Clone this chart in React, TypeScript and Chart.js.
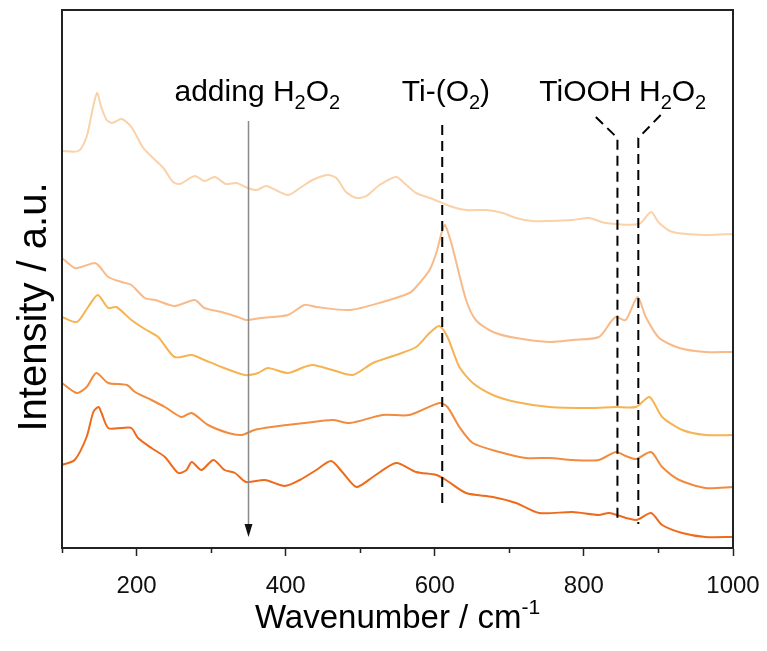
import React, { useEffect, useRef } from "react";
import { Chart, registerables } from "chart.js";
Chart.register(...registerables);

// ---------- data (wavenumber cm^-1, intensity a.u. with vertical offsets) ----------
const X_MIN = 100;
const X_MAX = 1000;
const Y_MIN = 0;
const Y_MAX = 538;
const majorTicks = [200, 400, 600, 800, 1000];
const minorTicks = [100, 300, 500, 700, 900];

const spectrum1: [number, number][] = [
  [100, 397], [122, 397], [133, 411], [140, 435], [147, 455], [153, 440], [160, 428], [167, 425], [180, 429],
  [193, 421], [209, 400], [225, 388], [236, 380], [249, 366], [258, 364], [278, 372], [291, 367],
  [305, 371], [320, 364], [334, 365], [349, 360], [361, 358], [374, 362], [403, 353], [419, 360],
  [436, 368], [456, 373], [468, 370], [481, 356], [495, 350], [508, 352], [526, 363], [548, 371],
  [562, 363], [575, 355], [597, 349], [620, 342], [642, 338], [669, 338], [691, 335], [709, 330],
  [731, 327], [754, 327], [785, 328], [807, 330], [829, 325], [874, 324], [890, 336], [901, 325],
  [919, 316], [963, 313], [1000, 314],
];

const spectrum2: [number, number][] = [
  [100, 290], [117, 280], [126, 281], [144, 285], [151, 281], [162, 271], [180, 266], [193, 263],
  [211, 250], [225, 248], [251, 242], [278, 248], [291, 240], [314, 236], [336, 231], [347, 228],
  [367, 230], [403, 233], [425, 243], [441, 241], [486, 238], [530, 246], [566, 255], [575, 261],
  [593, 278], [602, 295], [613, 323], [621, 308], [628, 288], [642, 248], [655, 228], [678, 216],
  [709, 210], [754, 206], [785, 208], [820, 211], [836, 226], [843, 231], [856, 228], [872, 251],
  [883, 231], [901, 210], [928, 200], [963, 196], [1000, 196],
];

const spectrum3: [number, number][] = [
  [100, 231], [120, 226], [135, 241], [148, 253], [162, 240], [173, 241], [193, 228], [211, 219],
  [229, 211], [251, 191], [274, 193], [291, 188], [314, 181], [345, 173], [363, 175], [376, 180],
  [403, 175], [425, 181], [436, 183], [463, 178], [490, 173], [517, 185], [548, 193], [575, 201],
  [593, 215], [606, 222], [617, 211], [633, 181], [651, 165], [678, 153], [709, 146], [754, 141],
  [807, 140], [843, 141], [870, 141], [888, 151], [905, 131], [932, 118], [963, 113], [1000, 113],
];

const spectrum4: [number, number][] = [
  [100, 165], [120, 155], [133, 161], [146, 175], [162, 165], [187, 163], [198, 156], [220, 148],
  [238, 141], [260, 131], [274, 135], [296, 123], [323, 115], [341, 113], [358, 118], [381, 121],
  [425, 125], [463, 128], [486, 125], [530, 133], [566, 133], [606, 145], [617, 141], [633, 121],
  [651, 105], [687, 96], [722, 90], [754, 90], [785, 88], [820, 88], [843, 96], [856, 92],
  [870, 89], [890, 96], [905, 81], [928, 68], [963, 60], [1000, 61],
];

const spectrum5: [number, number][] = [
  [100, 83], [117, 88], [133, 111], [142, 136], [149, 141], [153, 135], [162, 120], [180, 120],
  [193, 120], [202, 110], [220, 100], [238, 91], [256, 75], [267, 78], [274, 86], [287, 78],
  [303, 88], [318, 78], [332, 75], [347, 66], [372, 68], [399, 62], [419, 68], [441, 78],
  [461, 87], [477, 75], [495, 61], [517, 71], [548, 85], [575, 76], [602, 73], [615, 68],
  [642, 55], [678, 51], [709, 45], [740, 35], [785, 36], [820, 33], [834, 35], [870, 28],
  [890, 35], [905, 23], [932, 15], [963, 11], [1000, 11],
];

const spectra = [spectrum1, spectrum2, spectrum3, spectrum4, spectrum5];
const seriesColors = ["#FAD1A8", "#F7BA88", "#F6B352", "#F28B3E", "#EE6B1C"];

// annotations (data coordinates)
const arrowLine = { x: 349, top: 427, bottom: 11 };
const tiO2Line = { x: 610, top: 423, bottom: 42 };
const tiOOHLine = { x: 845, top: 410, bottom: 26, fromX: 816, fromY: 431 };
const h2o2Line = { x: 873, top: 410, bottom: 24, fromX: 903, fromY: 433 };
const labelY = 447;
const labels = [
  { x: 362, parts: [{ t: "adding H" }, { t: "2", sub: true }, { t: "O" }, { t: "2", sub: true }] },
  { x: 615, parts: [{ t: "Ti-(O" }, { t: "2", sub: true }, { t: ")" }] },
  { x: 802, parts: [{ t: "TiOOH" }] },
  { x: 919, parts: [{ t: "H" }, { t: "2", sub: true }, { t: "O" }, { t: "2", sub: true }] },
];

const FONT = "'Liberation Sans', Arial, sans-serif";

type Part = { t: string; sub?: boolean; sup?: boolean };

function drawRich(ctx: CanvasRenderingContext2D, parts: Part[], cx: number, y: number, size: number) {
  const small = Math.round(size * 0.65);
  let total = 0;
  const widths = parts.map((p) => {
    ctx.font = `${p.sub || p.sup ? small : size}px ${FONT}`;
    const w = ctx.measureText(p.t).width;
    total += w;
    return w;
  });
  let x = cx - total / 2;
  ctx.textAlign = "left";
  ctx.textBaseline = "alphabetic";
  parts.forEach((p, i) => {
    ctx.font = `${p.sub || p.sup ? small : size}px ${FONT}`;
    const dy = p.sub ? size * 0.28 : p.sup ? -size * 0.42 : 0;
    ctx.fillText(p.t, x, y + dy);
    x += widths[i];
  });
}

const overlayPlugin = {
  id: "overlay",
  afterDatasetsDraw(chart: any) {
    const { ctx, chartArea, scales } = chart;
    const xs = scales.x;
    const ys = scales.y;
    const px = (v: number) => xs.getPixelForValue(v);
    const py = (v: number) => ys.getPixelForValue(v);
    ctx.save();

    // frame
    ctx.strokeStyle = "#222";
    ctx.lineWidth = 2;
    ctx.strokeRect(chartArea.left, chartArea.top, chartArea.right - chartArea.left, chartArea.bottom - chartArea.top);

    // minor ticks
    ctx.lineWidth = 1.5;
    ctx.beginPath();
    minorTicks.forEach((v) => {
      const x = Math.round(px(v)) + 0.5;
      ctx.moveTo(x, chartArea.bottom);
      ctx.lineTo(x, chartArea.bottom + 5);
    });
    ctx.stroke();

    // arrow
    ctx.strokeStyle = "#8a8a8a";
    ctx.lineWidth = 1.5;
    const ax = Math.round(px(arrowLine.x)) + 0.5;
    ctx.beginPath();
    ctx.moveTo(ax, py(arrowLine.top));
    ctx.lineTo(ax, py(arrowLine.bottom) - 10);
    ctx.stroke();
    ctx.fillStyle = "#111";
    ctx.beginPath();
    ctx.moveTo(ax - 4, py(arrowLine.bottom) - 13);
    ctx.lineTo(ax + 4, py(arrowLine.bottom) - 13);
    ctx.lineTo(ax, py(arrowLine.bottom));
    ctx.closePath();
    ctx.fill();

    // dashed lines
    ctx.strokeStyle = "#000";
    ctx.lineWidth = 2;
    ctx.setLineDash([10, 6]);
    [tiO2Line, tiOOHLine, h2o2Line].forEach((l: any) => {
      ctx.beginPath();
      if (l.fromX !== undefined) {
        ctx.moveTo(px(l.fromX), py(l.fromY));
        ctx.lineTo(px(l.x), py(l.top));
      } else {
        ctx.moveTo(px(l.x), py(l.top));
      }
      ctx.lineTo(px(l.x), py(l.bottom));
      ctx.stroke();
    });
    ctx.setLineDash([]);

    // labels
    ctx.fillStyle = "#000";
    labels.forEach((lb) => drawRich(ctx, lb.parts, px(lb.x), py(labelY), 30));

    // axis titles
    drawRich(ctx, [{ t: "Wavenumber / cm" }, { t: "-1", sup: true }], (chartArea.left + chartArea.right) / 2, 628, 33);
    ctx.save();
    ctx.translate(46, 307);
    ctx.rotate(-Math.PI / 2);
    drawRich(ctx, [{ t: "Intensity / a.u." }], 0, 0, 40);
    ctx.restore();

    ctx.restore();
  },
};

export default function App() {
  const ref = useRef<HTMLCanvasElement | null>(null);
  useEffect(() => {
    if (!ref.current) return;
    const chart = new Chart(ref.current, {
      type: "line",
      data: {
        datasets: spectra.map((s, i) => ({
          label: `spectrum ${i + 1}`,
          data: s.map(([x, y]) => ({ x, y })),
          borderColor: seriesColors[i],
          borderWidth: 2,
          pointRadius: 0,
          tension: 0.25,
          fill: false,
        })),
      },
      options: {
        animation: false,
        responsive: false,
        layout: { padding: { top: 10, right: 34, left: 0, bottom: 0 } },
        plugins: { legend: { display: false }, tooltip: { enabled: false } },
        scales: {
          x: {
            type: "linear",
            min: X_MIN,
            max: X_MAX,
            afterBuildTicks: (s: any) => {
              s.ticks = majorTicks.map((v) => ({ value: v }));
            },
            afterFit: (s: any) => {
              s.height = 651 - 548;
              s.paddingLeft = 0;
              s.paddingRight = 0;
            },
            grid: { drawOnChartArea: false, drawTicks: true, tickLength: 8, color: "#222", tickWidth: 1.5 },
            border: { display: true, color: "#222", width: 2 },
            ticks: {
              color: "#111",
              font: { family: FONT, size: 24 },
              padding: 16,
              maxRotation: 0,
              autoSkip: false,
              callback: (v: any) => String(v),
            },
          },
          y: {
            type: "linear",
            min: Y_MIN,
            max: Y_MAX,
            afterFit: (s: any) => {
              s.width = 62;
              s.paddingTop = 0;
              s.paddingBottom = 0;
            },
            ticks: { display: false },
            grid: { display: false, drawTicks: false },
            border: { display: true, color: "#222", width: 2 },
          },
        },
      },
      plugins: [overlayPlugin],
    });
    return () => chart.destroy();
  }, []);
  return (
    <div style={{ position: "absolute", left: 0, top: 0, width: 767, height: 651, background: "#fff" }}>
      <canvas ref={ref} width={767} height={651} />
    </div>
  );
}
